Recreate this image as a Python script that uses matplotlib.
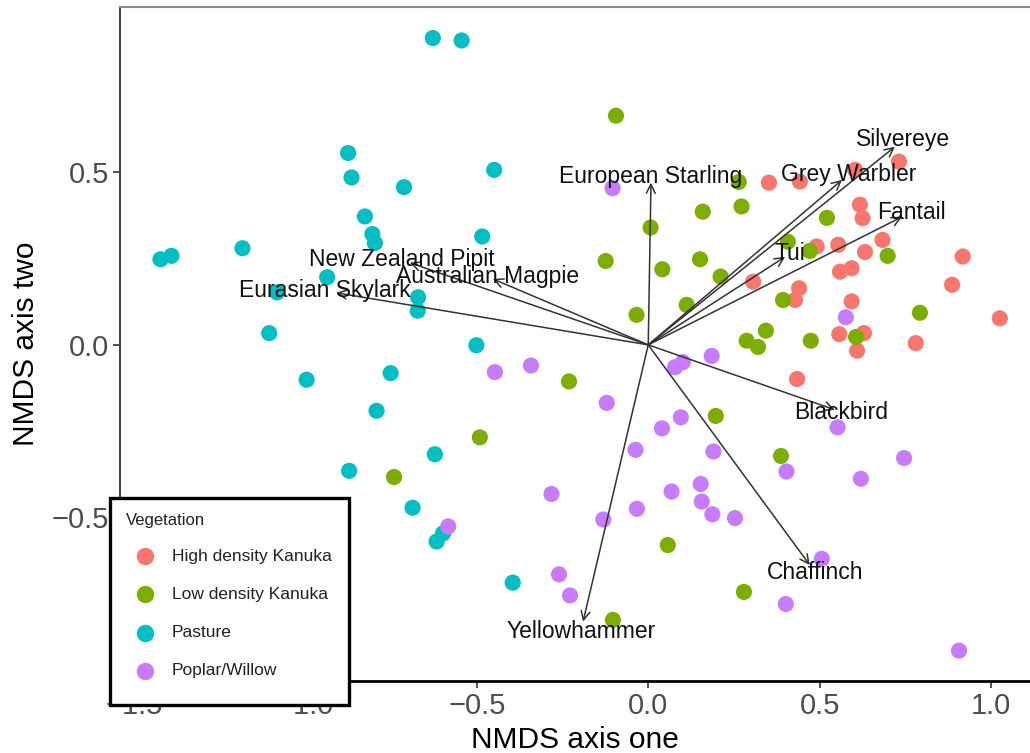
import matplotlib.pyplot as plt
from matplotlib.lines import Line2D
from matplotlib.patches import Rectangle

plt.rcParams['font.family'] = ['Liberation Sans', 'DejaVu Sans']

# site scores by vegetation type
high_x = [0.352, 0.442, 0.603, 0.731, 0.617, 0.625, 0.491, 0.554, 0.632, 0.683, 0.917, 0.559,
          0.593, 0.306, 0.440, 0.428, 0.593, 0.886, 1.025, 0.557, 0.629, 0.609, 0.780, 0.434]
high_y = [0.470, 0.473, 0.507, 0.531, 0.406, 0.367, 0.285, 0.290, 0.269, 0.304, 0.256, 0.212,
          0.222, 0.183, 0.164, 0.130, 0.126, 0.174, 0.077, 0.031, 0.034, -0.017, 0.005, -0.099]

low_x = [-0.094, 0.264, 0.272, 0.159, 0.007, -0.124, 0.041, 0.151, 0.211, 0.112, -0.034, 0.521,
         0.407, 0.471, 0.698, 0.393, 0.792, 0.343, 0.287, 0.320, 0.474, 0.606, -0.231, -0.491,
         0.197, 0.387, 0.057, 0.279, -0.103, -0.741]
low_y = [0.664, 0.472, 0.401, 0.386, 0.340, 0.243, 0.219, 0.248, 0.198, 0.116, 0.087, 0.368,
         0.299, 0.272, 0.258, 0.130, 0.093, 0.041, 0.012, -0.006, 0.012, 0.023, -0.106, -0.268,
         -0.206, -0.322, -0.580, -0.716, -0.797, -0.383]

past_x = [-0.628, -0.544, -0.875, -0.865, -0.712, -0.826, -0.804, -0.797, -1.183, -1.422, -1.390,
          -0.936, -1.082, -0.671, -0.672, -1.105, -0.449, -0.484, -0.501, -0.996, -0.751, -0.792,
          -0.622, -0.872, -0.687, -0.598, -0.617, -0.395]
past_y = [0.889, 0.882, 0.556, 0.485, 0.457, 0.372, 0.321, 0.295, 0.280, 0.248, 0.258,
          0.196, 0.152, 0.138, 0.099, 0.034, 0.507, 0.314, -0.001, -0.101, -0.082, -0.191,
          -0.317, -0.365, -0.472, -0.546, -0.570, -0.689]

pop_x = [-0.104, 0.576, 0.185, 0.101, 0.078, -0.447, -0.342, -0.121, 0.095, 0.040, -0.037, 0.190,
         0.403, 0.552, 0.620, 0.746, -0.282, 0.068, 0.153, 0.156, 0.187, 0.253, -0.033, -0.131,
         -0.583, -0.260, -0.228, 0.506, 0.401, 0.906]
pop_y = [0.454, 0.080, -0.032, -0.050, -0.065, -0.079, -0.060, -0.168, -0.210, -0.242, -0.304, -0.309,
         -0.367, -0.239, -0.388, -0.328, -0.432, -0.425, -0.403, -0.454, -0.491, -0.502, -0.475, -0.506,
         -0.526, -0.665, -0.726, -0.620, -0.751, -0.886]

groups = ["High density Kanuka", "Low density Kanuka", "Pasture", "Poplar/Willow"]
colors = ["#F8766D", "#7CAE00", "#00BFC4", "#C77CFF"]
xs = [high_x, low_x, past_x, pop_x]
ys = [high_y, low_y, past_y, pop_y]

# species vectors
species = ["European Starling", "Silvereye", "Grey Warbler", "Fantail", "Tui", "Blackbird",
           "Chaffinch", "Yellowhammer", "Eurasian Skylark", "New Zealand Pipit", "Australian Magpie"]
arrow_x = [0.008, 0.719, 0.565, 0.740, 0.399, 0.544, 0.471, -0.190, -0.910, -0.695, -0.453]
arrow_y = [0.470, 0.574, 0.478, 0.371, 0.255, -0.188, -0.638, -0.802, 0.151, 0.238, 0.191]
label_scale = 1.035

fig = plt.figure(figsize=(10.3, 7.53), dpi=100)
ax = fig.add_axes([120 / 1030, 1 - 681 / 753, 910 / 1030, 674 / 753])

for gx, gy, c in zip(xs, ys, colors):
    ax.scatter(gx, gy, s=135, color=c, edgecolors='none', zorder=2)

for name, ex, ey in zip(species, arrow_x, arrow_y):
    ax.annotate('', xy=(ex, ey), xytext=(0, 0),
                arrowprops=dict(arrowstyle='->', lw=1.1, color='#333333',
                                mutation_scale=16, shrinkA=0, shrinkB=0), zorder=3)
    ax.text(ex * label_scale, ey * label_scale, name, ha='center', va='center',
            fontsize=16.5, color='#111111', zorder=4)

ax.set_xlim(-1.54, 1.113)
ax.set_ylim(-0.974, 0.979)
ax.set_xticks([-1.5, -1.0, -0.5, 0.0, 0.5, 1.0])
ax.set_yticks([-0.5, 0.0, 0.5])
ax.tick_params(labelsize=21, labelcolor='#4D4D4D', length=5, width=1.2, color='#333333', pad=3)
ax.set_xlabel("NMDS axis one", fontsize=21.5, labelpad=4)
ax.set_ylabel("NMDS axis two", fontsize=21.5, labelpad=8)

ax.spines['right'].set_visible(False)
ax.spines['top'].set_color('#888888')
ax.spines['top'].set_linewidth(1.5)
ax.spines['left'].set_color('#444444')
ax.spines['left'].set_linewidth(1.5)
ax.spines['bottom'].set_color('black')
ax.spines['bottom'].set_linewidth(2)

# legend box drawn over the lower-left corner
W, H = 1030, 753
fig.add_artist(Rectangle((110 / W, 1 - 705 / H), 239 / W, 207 / H, transform=fig.transFigure,
                         facecolor='white', edgecolor='black', lw=2.4, zorder=10))
fig.text(126 / W, 1 - 521 / H, "Vegetation", fontsize=12, color='#222222',
         ha='left', va='center', zorder=11)
for i, (g, c) in enumerate(zip(groups, colors)):
    yy = 1 - (556 + 38.3 * i) / H
    fig.add_artist(Line2D([145 / W], [yy], transform=fig.transFigure, marker='o', ms=11.5,
                          color=c, ls='', zorder=11))
    fig.text(172 / W, yy, g, fontsize=12.5, color='#222222', ha='left', va='center', zorder=11)

fig.savefig("out.png", dpi=100)
